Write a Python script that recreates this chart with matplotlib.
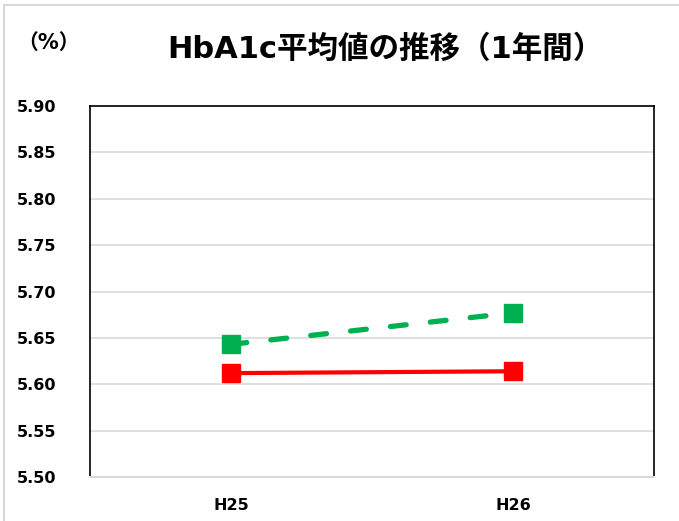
import matplotlib
matplotlib.use("Agg")
import matplotlib.pyplot as plt
from matplotlib.lines import Line2D

categories = ["H25", "H26"]
green_values = [5.643, 5.677]
red_values = [5.612, 5.614]
yticks = [5.50, 5.55, 5.60, 5.65, 5.70, 5.75, 5.80, 5.85, 5.90]

W, H = 679, 521
fig = plt.figure(figsize=(W / 100, H / 100), dpi=100)
left, right, top, bottom = 90, 654, 106, 477
ax = fig.add_axes([left / W, 1 - bottom / H, (right - left) / W, (bottom - top) / H])

x = list(range(len(categories)))
ax.plot(x, green_values, color="#00B050", lw=3.8, linestyle=(0, (3.0, 4.6)),
        dash_capstyle="round", marker="s", markersize=13.5, zorder=3)
ax.plot(x, red_values, color="#FF0000", lw=3.0, marker="s", markersize=13.5, zorder=3)

ax.set_xlim(-0.5, 1.5)
ax.set_ylim(5.50, 5.90)
ax.set_yticks(yticks)
ax.set_yticklabels([f"{v:.2f}" for v in yticks])
ax.set_xticks(x)
ax.set_xticklabels(categories)
ax.grid(axis="y", color="#d9d9d9", lw=1.2)
ax.set_axisbelow(True)
for s in ["left", "right", "top"]:
    ax.spines[s].set_color("black")
    ax.spines[s].set_linewidth(1.2)
ax.spines["bottom"].set_color("#d9d9d9")
ax.spines["bottom"].set_linewidth(1.5)
ax.tick_params(length=0)
ax.tick_params(axis="y", pad=24)
ax.tick_params(axis="x", pad=15)
for lab in ax.get_yticklabels() + ax.get_xticklabels():
    lab.set_fontweight("bold")
    lab.set_fontsize(11.5)
    lab.set_family(["DejaVu Sans"])

fig.text(385 / W, 1 - 49 / H, "HbA1c平均値の推移（1年間）", ha="center", va="center",
         fontsize=22, fontweight="bold", family=["DejaVu Sans", "Noto Sans CJK JP"])
fig.text(49 / W, 1 - 43 / H, "（%）", ha="center", va="center",
         fontsize=15, fontweight="bold", family=["DejaVu Sans", "Noto Sans CJK JP"])

# outer light border (top and left)
fig.add_artist(Line2D([4 / W, 1], [1 - 5 / H, 1 - 5 / H], transform=fig.transFigure,
                      color="#d9d9d9", lw=1.5))
fig.add_artist(Line2D([4 / W, 4 / W], [0, 1 - 5 / H], transform=fig.transFigure,
                      color="#d9d9d9", lw=1.5))

fig.savefig("out.png", dpi=100)
